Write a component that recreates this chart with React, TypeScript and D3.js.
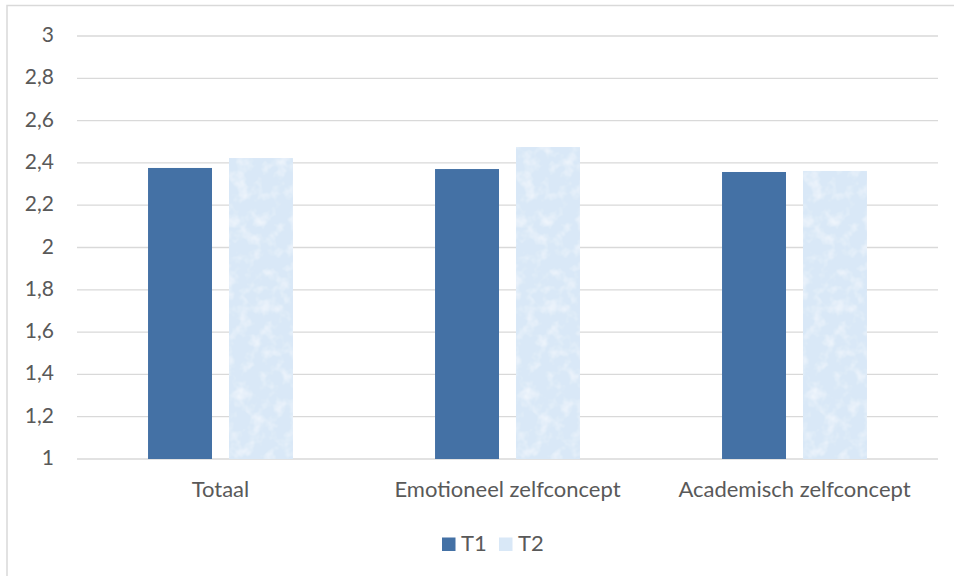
import { useMemo } from "react";
import * as d3 from "d3";

const categories = ["Totaal", "Emotioneel zelfconcept", "Academisch zelfconcept"];
const seriesNames = ["T1", "T2"];
const t1Values = [2.376, 2.371, 2.357];
const t2Values = [2.423, 2.475, 2.362];
const yTicks = [1, 1.2, 1.4, 1.6, 1.8, 2, 2.2, 2.4, 2.6, 2.8, 3];

const W = 954;
const H = 576;
const plot = { left: 77, right: 938, top: 36, bottom: 459 };
const font = "Lato, 'Liberation Sans', sans-serif";
const textColor = "#595959";
const gridColor = "#d9d9d9";
const colors = ["#4471a5", "#d9e8f7"];

export default function App() {
  const x0 = useMemo(
    () => d3.scaleBand().domain(categories).range([plot.left, plot.right]).paddingInner(0.495).paddingOuter(0.2475),
    []
  );
  const x1 = useMemo(
    () => d3.scaleBand().domain(seriesNames).range([0, x0.bandwidth()]).paddingInner(0.21),
    [x0]
  );
  const y = useMemo(() => d3.scaleLinear().domain([1, 3]).range([plot.bottom, plot.top]), []);
  const fmt = (v: number) => String(+v.toFixed(1)).replace(".", ",");
  const values = [t1Values, t2Values];

  return (
    <svg width={W} height={H} style={{ position: "absolute", left: 0, top: 0, background: "#fff" }}>
      <defs>
        <filter id="marble" x="0" y="0" width="100%" height="100%">
          <feTurbulence type="fractalNoise" baseFrequency="0.07" numOctaves="3" seed="4" result="noise" />
          <feColorMatrix
            in="noise"
            type="matrix"
            values="0 0 0 0 1  0 0 0 0 1  0 0 0 0 1  0 0 0 1.3 -0.6"
            result="spots"
          />
          <feComposite in="spots" in2="SourceGraphic" operator="in" result="clipped" />
          <feMerge>
            <feMergeNode in="SourceGraphic" />
            <feMergeNode in="clipped" />
          </feMerge>
        </filter>
      </defs>
      <rect x={7} y={5.5} width={W + 10} height={H + 10} fill="none" stroke={gridColor} strokeWidth={1.5} />

      {yTicks.map((t) => (
        <g key={t}>
          <line x1={plot.left} x2={plot.right} y1={y(t)} y2={y(t)} stroke={gridColor} strokeWidth={1.3} />
          <text x={54} y={y(t) + 6} textAnchor="end" fontFamily={font} fontSize={21} fill={textColor}>
            {fmt(t)}
          </text>
        </g>
      ))}

      {categories.map((c, i) => (
        <g key={c} transform={`translate(${x0(c)},0)`}>
          {seriesNames.map((s, j) => (
            <rect
              key={s}
              x={x1(s)}
              y={y(values[j][i])}
              width={x1.bandwidth()}
              height={plot.bottom - y(values[j][i])}
              fill={colors[j]}
              filter={j === 1 ? "url(#marble)" : undefined}
            />
          ))}
          <text
            x={x0.bandwidth() / 2}
            y={497}
            textAnchor="middle"
            fontFamily={font}
            fontSize={22}
            fill={textColor}
          >
            {c}
          </text>
        </g>
      ))}

      <g transform="translate(442,537.5)">
        {seriesNames.map((s, j) => (
          <g key={s} transform={`translate(${j * 57},0)`}>
            <rect width={13.5} height={13.5} fill={colors[j]} />
            <text x={19} y={13.5} fontFamily={font} fontSize={22} fill={textColor}>
              {s}
            </text>
          </g>
        ))}
      </g>
    </svg>
  );
}
